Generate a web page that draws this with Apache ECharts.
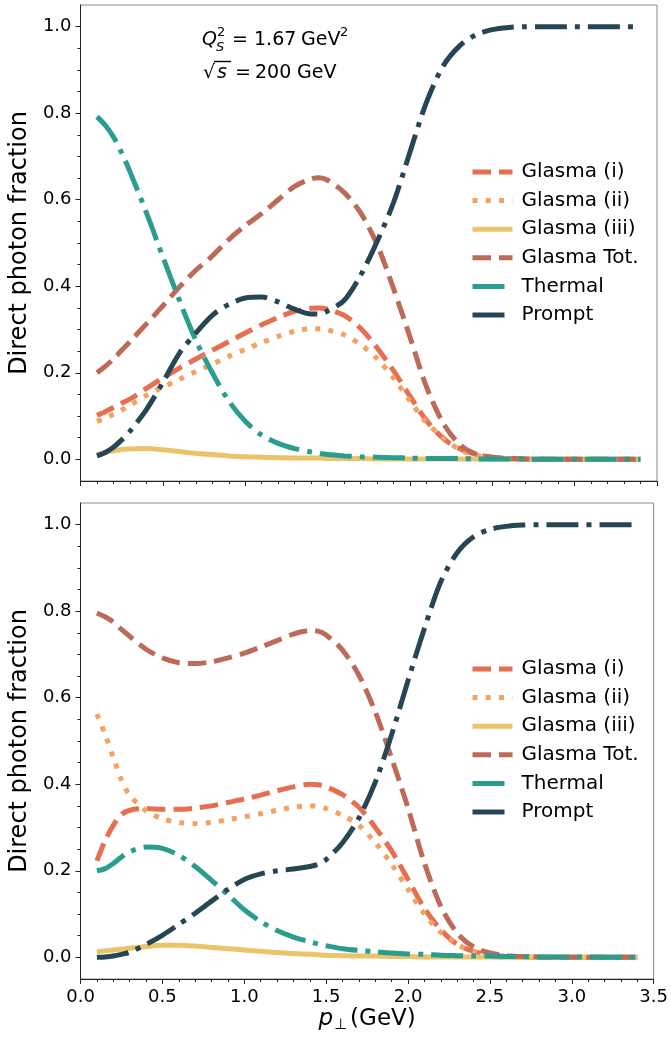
<!DOCTYPE html>
<html><head><meta charset="utf-8">
<script src="https://cdn.jsdelivr.net/npm/echarts@6/dist/echarts.min.js"></script>
<style>html,body{margin:0;padding:0;background:#fff}#c{width:671px;height:1037px}</style>
</head><body><div id="c"></div>
<script>
// ---- data ----
const pT = [0.1, 0.15, 0.2, 0.25, 0.3, 0.4, 0.5, 0.6, 0.7, 0.8, 0.9, 1.0, 1.1, 1.2, 1.3, 1.4, 1.45, 1.5, 1.6, 1.7, 1.8, 1.9, 2.0, 2.1, 2.2, 2.3, 2.4, 2.5, 2.6, 2.7, 2.8, 3.0, 3.2, 3.4];
const seriesNames = ['Glasma (i)', 'Glasma (ii)', 'Glasma (iii)', 'Glasma Tot.', 'Thermal', 'Prompt'];

// top panel
const topGlasmaI   = [0.102,0.110,0.120,0.130,0.139,0.164,0.188,0.211,0.232,0.252,0.272,0.292,0.311,0.328,0.342,0.349,0.350,0.347,0.333,0.303,0.258,0.205,0.146,0.090,0.049,0.025,0.012,0.005,0.002,0.001,0,0,0,0];
const topGlasmaII  = [0.088,0.095,0.104,0.114,0.125,0.148,0.167,0.185,0.203,0.220,0.238,0.254,0.270,0.284,0.296,0.302,0.302,0.299,0.288,0.265,0.233,0.188,0.135,0.085,0.051,0.023,0.010,0.004,0.002,0.001,0,0,0,0];
const topGlasmaIII = [0.011,0.016,0.020,0.023,0.024,0.025,0.022,0.018,0.014,0.011,0.008,0.006,0.005,0.004,0.003,0.003,0.003,0.002,0.002,0.002,0.001,0.001,0.001,0.001,0.001,0.001,0.001,0.001,0,0,0,0,0,0];
const topGlasmaTot = [0.200,0.215,0.232,0.252,0.272,0.313,0.355,0.398,0.437,0.470,0.508,0.540,0.568,0.600,0.631,0.648,0.651,0.645,0.617,0.570,0.497,0.395,0.283,0.168,0.085,0.035,0.012,0.005,0.002,0.001,0,0,0,0];
const topThermal   = [0.792,0.772,0.745,0.708,0.665,0.570,0.468,0.368,0.275,0.200,0.135,0.088,0.056,0.037,0.025,0.017,0.014,0.011,0.008,0.006,0.005,0.004,0.003,0.002,0.002,0.002,0.001,0.001,0.001,0.001,0,0,0,0];
const topPrompt    = [0.008,0.016,0.028,0.045,0.065,0.115,0.178,0.245,0.292,0.333,0.358,0.373,0.375,0.364,0.347,0.336,0.336,0.343,0.367,0.425,0.503,0.593,0.710,0.825,0.908,0.955,0.981,0.993,0.998,1.0,1.0,1.0,1.0,1.0];

// bottom panel
const botGlasmaI   = [0.223,0.270,0.305,0.330,0.340,0.344,0.342,0.342,0.345,0.350,0.358,0.366,0.375,0.385,0.394,0.400,0.399,0.394,0.376,0.347,0.300,0.246,0.180,0.113,0.064,0.030,0.014,0.006,0.002,0.001,0,0,0,0];
const botGlasmaII  = [0.562,0.515,0.462,0.410,0.375,0.339,0.320,0.312,0.309,0.312,0.318,0.325,0.332,0.340,0.347,0.350,0.349,0.344,0.328,0.305,0.265,0.215,0.157,0.100,0.058,0.030,0.013,0.005,0.002,0.001,0,0,0,0];
const botGlasmaIII = [0.013,0.015,0.017,0.019,0.021,0.025,0.028,0.028,0.026,0.023,0.020,0.017,0.014,0.011,0.009,0.007,0.006,0.005,0.004,0.003,0.003,0.002,0.002,0.001,0.001,0.001,0.001,0.001,0,0,0,0,0,0];
const botGlasmaTot = [0.796,0.787,0.775,0.758,0.742,0.712,0.692,0.681,0.679,0.683,0.692,0.703,0.717,0.732,0.747,0.755,0.754,0.745,0.710,0.652,0.567,0.460,0.345,0.218,0.118,0.056,0.024,0.010,0.004,0.002,0.001,0,0,0];
const botThermal   = [0.200,0.205,0.217,0.232,0.244,0.255,0.252,0.236,0.210,0.178,0.145,0.110,0.083,0.062,0.047,0.036,0.031,0.027,0.020,0.016,0.013,0.010,0.008,0.007,0.005,0.004,0.003,0.003,0.002,0.002,0.001,0.001,0.0005,0];
const botPrompt    = [0.000,0.001,0.003,0.007,0.012,0.030,0.051,0.076,0.102,0.130,0.157,0.180,0.193,0.200,0.204,0.210,0.215,0.226,0.265,0.322,0.405,0.515,0.640,0.760,0.868,0.935,0.972,0.989,0.996,0.999,1.0,1.0,1.0,1.0];

const yTickValues = [0.0, 0.2, 0.4, 0.6, 0.8, 1.0];
const yMinorValues = [0.05,0.1,0.15,0.25,0.3,0.35,0.45,0.5,0.55,0.65,0.7,0.75,0.85,0.9,0.95];

// ---- styles ----
const FONT = 'DejaVu Sans';
const colors = ['#e76f51', '#f4a261', '#e9c46a', '#bd6b58', '#2a9d8f', '#264653'];
const dashes = [[18.5, 8], [5, 8.25], 'solid', [18.5, 8], [32, 8, 5, 8], [32, 8, 5, 8]];
const LW = 5;

function mk(vals, i, xi, yi) {
  return {
    name: seriesNames[i], type: 'line', xAxisIndex: xi, yAxisIndex: yi,
    data: pT.map((x, k) => [x, vals[k]]),
    symbol: 'none', smooth: 0.3, z: 2 + i,
    color: colors[i],
    lineStyle: { color: colors[i], width: LW, type: dashes[i], cap: 'butt' },
    emphasis: { disabled: true }, silent: true, animation: false
  };
}

const topSets = [topGlasmaI, topGlasmaII, topGlasmaIII, topGlasmaTot, topThermal, topPrompt];
const botSets = [botGlasmaI, botGlasmaII, botGlasmaIII, botGlasmaTot, botThermal, botPrompt];
const series = [];
topSets.forEach((v, i) => series.push(mk(v, i, 0, 0)));
botSets.forEach((v, i) => series.push(mk(v, i, 1, 2)));

function xAx(g, labels) {
  const a = {
    gridIndex: g, type: 'value', min: 0, max: 3.5, interval: 0.5,
    axisLine: { show: true, onZero: false, lineStyle: { color: '#222', width: 1 } },
    axisTick: { show: true, length: 5, lineStyle: { color: '#222' } },
    minorTick: { show: true, splitNumber: 5, length: 3, lineStyle: { color: '#222' } },
    splitLine: { show: false }, minorSplitLine: { show: false },
    axisLabel: { show: labels, formatter: v => v.toFixed(1), fontSize: 18, fontFamily: FONT, color: '#000', margin: 9 }
  };
  if (labels) {
    a.name = '{p|p}{s|⊥}{t|(GeV)}';
    a.nameLocation = 'middle';
    a.nameGap = 27;
    a.nameTextStyle = {
      fontFamily: FONT, color: '#000', fontSize: 23,
      rich: {
        p: { fontSize: 23, fontStyle: 'italic', fontFamily: FONT, color: '#000' },
        s: { fontSize: 15, fontFamily: FONT, color: '#000', padding: [12, 3, 0, 1] },
        t: { fontSize: 23, fontFamily: FONT, color: '#000' }
      }
    };
  }
  return a;
}
function yMain(g) {
  return {
    gridIndex: g, type: 'value', min: -0.05, max: 1.05, position: 'left',
    axisLine: { show: true, lineStyle: { color: '#222', width: 1 } },
    axisTick: { show: true, customValues: yTickValues, length: 5, lineStyle: { color: '#222' } },
    axisLabel: { customValues: yTickValues, formatter: v => v.toFixed(1), fontSize: 18, fontFamily: FONT, color: '#000', margin: 9 },
    splitLine: { show: false },
    name: 'Direct photon fraction', nameLocation: 'middle', nameGap: 38,
    nameTextStyle: { fontSize: 24, fontFamily: FONT, color: '#000' }
  };
}
function yMinor(g) {
  return {
    gridIndex: g, type: 'value', min: -0.05, max: 1.05, position: 'left', offset: 0,
    axisLine: { show: false },
    axisTick: { show: true, customValues: yMinorValues, length: 3, lineStyle: { color: '#222' } },
    axisLabel: { show: false }, splitLine: { show: false }
  };
}
function legend(top) {
  return {
    data: seriesNames, orient: 'vertical', left: 465, top: top,
    itemWidth: 40, itemHeight: 14, itemGap: 8.6, selectedMode: false,
    itemStyle: { opacity: 0, color: 'rgba(0,0,0,0)', borderWidth: 0 },
    lineStyle: { width: LW },
    textStyle: { fontSize: 20, fontFamily: FONT, color: '#000', padding: [0, 0, 0, 4] }
  };
}

const txt = (x, y, text, size, italic, align) => ({
  type: 'text', x: x, y: y, silent: true, z: 100,
  style: { text: text, fontSize: size, fontFamily: FONT, fontStyle: italic ? 'italic' : 'normal', fill: '#000', verticalAlign: 'middle', align: align || 'left' }
});

const graphic = [
  txt(202, 40.5, 'Q', 19, true),
  txt(216, 47.5, 'S', 13, true),
  txt(217, 33, '2', 13, false),
  txt(232, 40.5, '=', 19, false),
  txt(254, 40.5, '1.67', 19, false),
  txt(301, 40.5, 'GeV', 19, false),
  txt(340, 33, '2', 13, false),
  txt(203, 73, '√', 19, false),
  { type: 'line', silent: true, z: 100, shape: { x1: 214, y1: 61.5, x2: 231, y2: 61.5 }, style: { stroke: '#000', lineWidth: 1.4 } },
  txt(217, 73, 's', 19, true),
  txt(235, 73, '=', 19, false),
  txt(255, 73, '200', 19, false),
  txt(297, 73, 'GeV', 19, false)
];

const chart = echarts.init(document.getElementById('c'), null, { renderer: 'canvas' });
chart.setOption({
  animation: false,
  backgroundColor: '#fff',
  textStyle: { fontFamily: FONT },
  grid: [
    { left: 78, right: 14, top: 5, height: 476, show: true, borderColor: '#888', borderWidth: 1, backgroundColor: 'transparent' },
    { left: 78, right: 14, top: 503, height: 476, show: true, borderColor: '#888', borderWidth: 1, backgroundColor: 'transparent' }
  ],
  xAxis: [xAx(0, false), xAx(1, true)],
  yAxis: [yMain(0), yMinor(0), yMain(1), yMinor(1)],
  legend: [legend(157), legend(654)],
  series: series,
  graphic: graphic
});
</script>
</body></html>
